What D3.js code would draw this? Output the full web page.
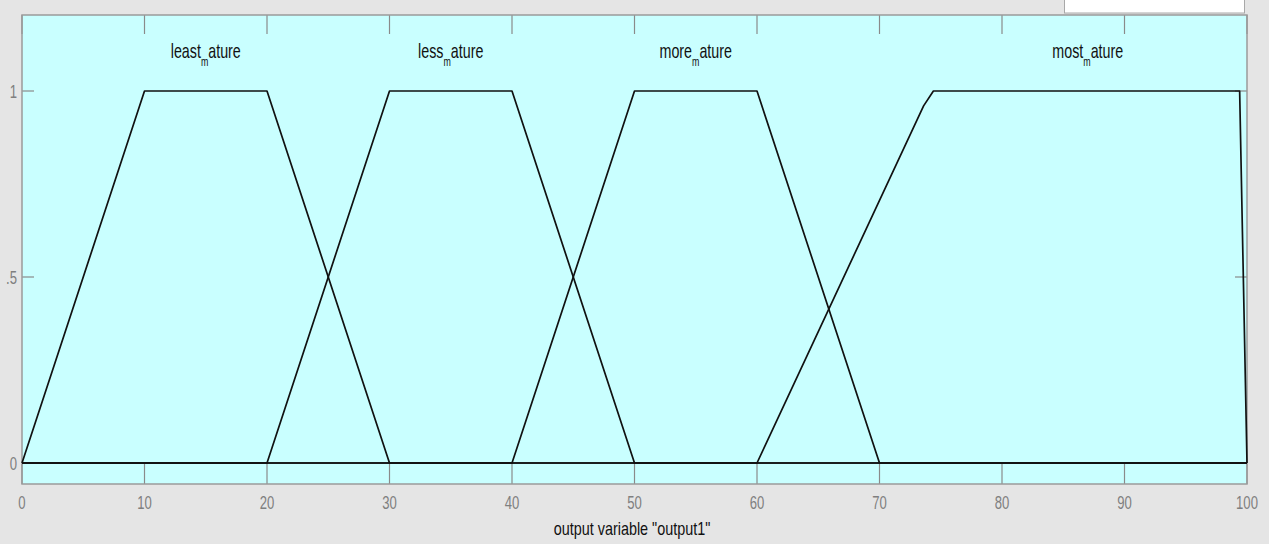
<!DOCTYPE html>
<html>
<head>
<meta charset="utf-8">
<script src="https://cdn.jsdelivr.net/npm/d3@7"></script>
<style>
  html, body { margin: 0; padding: 0; background: #e5e5e5; }
  svg { display: block; }
  text { font-family: "Liberation Sans", Arial, sans-serif; }
</style>
</head>
<body>
<svg id="chart" width="1269" height="544"></svg>
<script>
// membership function names (label = head + subscript "m" + "ature")
const mfHeads = ["least", "less", "more", "most"];
// vertices of each membership function
const leastMf = [[0, 0], [10, 1], [20, 1], [30, 0], [100, 0]];
const lessMf = [[0, 0], [20, 0], [30, 1], [40, 1], [50, 0], [100, 0]];
const moreMf = [[0, 0], [40, 0], [50, 1], [60, 1], [70, 0], [100, 0]];
const mostMf = [[0, 0], [60, 0], [73.6, 0.96], [74.4, 1], [99.4, 1], [100, 0]];
// label centre along x for each function
const labelAt = [15, 35, 55, 87];
const xTicks = [0, 10, 20, 30, 40, 50, 60, 70, 80, 90, 100];
const yTicks = [0, 0.5, 1];
const yTickLabels = ["0", ".5", "1"];
const xTitle = 'output variable "output1"';

const svg = d3.select("#chart");
const pLeft = 22, pRight = 1247, pTop = 15, pBottom = 484;

const x = d3.scaleLinear().domain([0, 100]).range([pLeft, pRight]);
const y = d3.scaleLinear().domain([0, 1]).range([463, 91]);

// top white box (legend edge cut off)
svg.append("rect")
  .attr("x", 1064.5).attr("y", -2).attr("width", 180).attr("height", 15)
  .attr("fill", "#fff").attr("stroke", "#a8a8a8");

// plot area
svg.append("rect")
  .attr("x", pLeft).attr("y", pTop)
  .attr("width", pRight - pLeft).attr("height", pBottom - pTop)
  .attr("fill", "#c9ffff");

// ticks on all four sides
const tickCol = "#8a8a8a";
const g = svg.append("g").attr("stroke", tickCol).attr("stroke-width", 1.2);
xTicks.forEach(t => {
  g.append("line").attr("x1", x(t)).attr("x2", x(t)).attr("y1", pTop).attr("y2", pTop + 19);
  g.append("line").attr("x1", x(t)).attr("x2", x(t)).attr("y1", pBottom).attr("y2", pBottom - 20);
});
yTicks.forEach(t => {
  g.append("line").attr("x1", pLeft).attr("x2", pLeft + 12).attr("y1", y(t)).attr("y2", y(t));
  g.append("line").attr("x1", pRight).attr("x2", pRight - 12).attr("y1", y(t)).attr("y2", y(t));
});

// frame
svg.append("rect")
  .attr("x", pLeft).attr("y", pTop)
  .attr("width", pRight - pLeft).attr("height", pBottom - pTop)
  .attr("fill", "none").attr("stroke", "#9a9a9a").attr("stroke-width", 1.5);

// condensed text helper
function label(px, py, str, size, sx, anchor, col) {
  return svg.append("text")
    .attr("transform", `translate(${px},${py}) scale(${sx},1)`)
    .attr("text-anchor", anchor)
    .attr("font-size", size)
    .attr("fill", col)
    .text(str);
}

xTicks.forEach(t => label(x(t), 509, t, 19, 0.69, "middle", "#7f7f7f"));
yTicks.forEach((t, i) => label(17, y(t) + 7, yTickLabels[i], 19, 0.69, "end", "#7f7f7f"));

label(632, 535, xTitle, 18, 0.8, "middle", "#111");

// membership functions
const line = d3.line().x(d => x(d[0])).y(d => y(d[1]));
[leastMf, lessMf, moreMf, mostMf].forEach(mf => {
  svg.append("path")
    .attr("d", line(mf))
    .attr("fill", "none")
    .attr("stroke", "#111")
    .attr("stroke-width", 1.7)
    .attr("stroke-linejoin", "round");
});

// names with subscript m
mfHeads.forEach((h, i) => {
  const t = svg.append("text")
    .attr("transform", `translate(${x(labelAt[i])},58) scale(0.68,1)`)
    .attr("text-anchor", "middle")
    .attr("font-size", 21)
    .attr("fill", "#111");
  t.append("tspan").text(h);
  t.append("tspan").attr("font-size", 13).attr("dy", 8).text("m");
  t.append("tspan").attr("dy", -8).text("ature");
});
</script>
</body>
</html>
